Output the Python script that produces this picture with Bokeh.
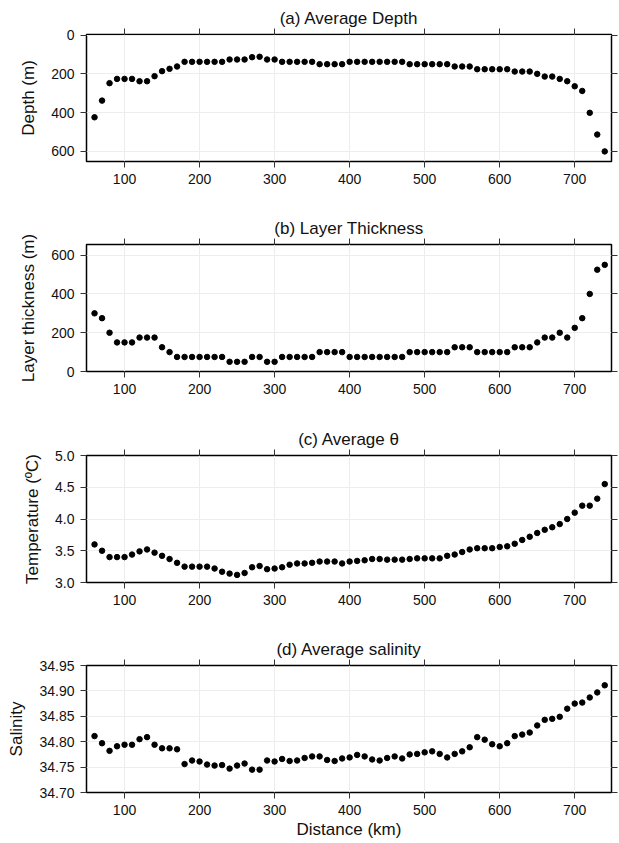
from bokeh.plotting import figure
from bokeh.models import (Range1d, LinearAxis, FixedTicker, PrintfTickFormatter,
                          CustomJSTickFormatter, ColumnDataSource)
from bokeh.layouts import column
from bokeh.embed import file_html
from bokeh.resources import INLINE

# ---------------- data ----------------
distance = [60, 70, 80, 90, 100, 110, 120, 130, 140, 150, 160, 170, 180, 190, 200,
            210, 220, 230, 240, 250, 260, 270, 280, 290, 300, 310, 320, 330, 340, 350,
            360, 370, 380, 390, 400, 410, 420, 430, 440, 450, 460, 470, 480, 490, 500,
            510, 520, 530, 540, 550, 560, 570, 580, 590, 600, 610, 620, 630, 640, 650,
            660, 670, 680, 690, 700, 710, 720, 730, 740]

depth = [424, 338, 248, 226, 226, 226, 238, 238, 212, 186, 174, 162, 138, 138, 138,
         138, 138, 138, 126, 126, 126, 114, 112, 126, 126, 138, 138, 138, 138, 138,
         150, 150, 150, 150, 138, 138, 138, 138, 138, 138, 138, 138, 150, 150, 150,
         150, 150, 150, 162, 162, 162, 176, 176, 176, 176, 176, 188, 188, 188, 200,
         214, 214, 226, 238, 264, 288, 401, 513, 600]

thickness = [300, 275, 200, 150, 150, 150, 175, 175, 175, 125, 100, 75, 75, 75, 75,
             75, 75, 75, 50, 50, 50, 75, 75, 50, 50, 75, 75, 75, 75, 75,
             100, 100, 100, 100, 75, 75, 75, 75, 75, 75, 75, 75, 100, 100, 100,
             100, 100, 100, 125, 125, 125, 100, 100, 100, 100, 100, 125, 125, 125, 150,
             175, 175, 200, 175, 225, 275, 400, 525, 550]

theta = [3.60, 3.50, 3.40, 3.40, 3.40, 3.44, 3.49, 3.52, 3.47, 3.42, 3.37, 3.31, 3.25, 3.25, 3.25,
         3.25, 3.22, 3.17, 3.14, 3.12, 3.15, 3.24, 3.26, 3.21, 3.22, 3.24, 3.28, 3.30, 3.30, 3.31,
         3.33, 3.33, 3.33, 3.30, 3.33, 3.34, 3.35, 3.37, 3.37, 3.36, 3.36, 3.36, 3.37, 3.38, 3.38,
         3.38, 3.38, 3.42, 3.44, 3.48, 3.52, 3.54, 3.54, 3.54, 3.56, 3.57, 3.61, 3.67, 3.72, 3.78,
         3.83, 3.87, 3.92, 4.00, 4.10, 4.21, 4.21, 4.32, 4.55]

salinity = [34.811, 34.797, 34.782, 34.791, 34.794, 34.794, 34.805, 34.809, 34.794, 34.787,
            34.787, 34.785, 34.756, 34.763, 34.761, 34.755, 34.753, 34.754, 34.747, 34.753,
            34.757, 34.745, 34.745, 34.763, 34.761, 34.766, 34.762, 34.763, 34.768, 34.771,
            34.771, 34.764, 34.762, 34.767, 34.769, 34.774, 34.771, 34.765, 34.763, 34.768,
            34.771, 34.767, 34.775, 34.776, 34.779, 34.781, 34.776, 34.769, 34.776, 34.781,
            34.789, 34.809, 34.804, 34.795, 34.791, 34.797, 34.811, 34.814, 34.818, 34.832,
            34.843, 34.845, 34.849, 34.865, 34.875, 34.877, 34.887, 34.897, 34.911]

x_ticks = [100, 200, 300, 400, 500, 600, 700]
depth_ticks = [0, 200, 400, 600]
thick_ticks = [0, 200, 400, 600]
theta_ticks = [3.0, 3.5, 4.0, 4.5, 5.0]
sal_ticks = [34.70, 34.75, 34.80, 34.85, 34.90, 34.95]

titles = ["(a) Average Depth", "(b) Layer Thickness", "(c) Average θ", "(d) Average salinity"]
ylabels = ["Depth (m)", "Layer thickness (m)", "Temperature (ºC)", "Salinity"]

FONT = "Liberation Sans"
source = ColumnDataSource(dict(distance=distance, depth=depth, thickness=thickness,
                               theta=theta, salinity=salinity))


def style_axis(ax, ticks, show_labels=True, fmt=None):
    ax.ticker = FixedTicker(ticks=ticks)
    ax.axis_line_color = None
    ax.major_tick_in = 0
    ax.major_tick_out = 6
    ax.major_tick_line_color = "#333333"
    ax.major_tick_line_width = 1
    ax.minor_tick_line_color = None
    ax.major_label_text_font = FONT
    ax.major_label_text_color = "#111111"
    if show_labels:
        ax.major_label_text_font_size = "14px"
        ax.major_label_standoff = 6
        if fmt is not None:
            ax.formatter = PrintfTickFormatter(format=fmt)
    else:
        # tick marks only: empty labels
        ax.formatter = CustomJSTickFormatter(code="return '';")
        ax.major_label_text_font_size = "1px"
        ax.major_label_standoff = 0
    ax.axis_label_text_font = FONT
    ax.axis_label_text_font_size = "17px"
    ax.axis_label_text_font_style = "normal"
    ax.axis_label_text_color = "#111111"
    ax.axis_label_standoff = 10


def make_fig(height, top, bottom, title, ylabel, y_range, yticks, fmt, ycol, xlabel=None):
    p = figure(width=619, height=height, x_range=Range1d(49.3, 749), y_range=y_range,
               output_backend="svg", toolbar_location=None,
               min_border_left=86, min_border_right=8,
               min_border_top=top, min_border_bottom=bottom)
    p.background_fill_color = "white"
    p.border_fill_color = "white"
    p.outline_line_color = "black"
    p.outline_line_width = 1.5

    p.title.text = title
    p.title.text_font = FONT
    p.title.text_font_size = "17px"
    p.title.text_font_style = "normal"
    p.title.text_color = "#111111"
    p.title.align = "center"
    p.title.standoff = 2
    p.title.offset = -5

    style_axis(p.xaxis[0], x_ticks, True, None)
    style_axis(p.yaxis[0], yticks, True, fmt)
    p.yaxis[0].axis_label = ylabel
    if xlabel:
        p.xaxis[0].axis_label = xlabel
        p.xaxis[0].axis_label_standoff = 2

    top_ax = LinearAxis()
    style_axis(top_ax, x_ticks, False)
    p.add_layout(top_ax, "above")
    right_ax = LinearAxis()
    style_axis(right_ax, yticks, False)
    p.add_layout(right_ax, "right")

    p.xgrid.ticker = FixedTicker(ticks=x_ticks)
    p.ygrid.ticker = FixedTicker(ticks=yticks)
    p.xgrid.grid_line_color = "#ededed"
    p.ygrid.grid_line_color = "#ededed"
    p.xgrid.grid_line_width = 1
    p.ygrid.grid_line_width = 1

    p.scatter(x="distance", y=ycol, source=source, size=5.5,
              fill_color="black", line_color="black")
    return p


pa = make_fig(210, 34, 49, titles[0], ylabels[0], Range1d(652, -3), depth_ticks, None, "depth")
pb = make_fig(210, 34, 49, titles[1], ylabels[1], Range1d(0, 655), thick_ticks, None, "thickness")
pc = make_fig(210, 35, 48, titles[2], ylabels[2], Range1d(3.0, 5.0), theta_ticks, "%.1f", "theta")
pd_ = make_fig(213, 35, 51, titles[3], ylabels[3], Range1d(34.70, 34.95), sal_ticks, "%.2f",
               "salinity", xlabel="Distance (km)")

layout = column(pa, pb, pc, pd_, spacing=0)

with open("out.html", "w") as f:
    f.write(file_html(layout, INLINE))
